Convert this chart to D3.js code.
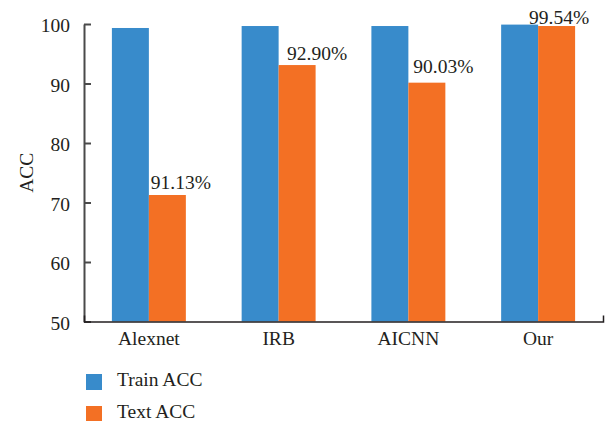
<!DOCTYPE html>
<html>
<head>
<meta charset="utf-8">
<script src="https://cdn.jsdelivr.net/npm/d3@7"></script>
<style>
  body { margin: 0; background: #fff; }
  text { font-family: "Liberation Serif", "DejaVu Serif", serif; fill: #231f20; }
</style>
</head>
<body>
<svg id="chart" width="610" height="421"></svg>
<script>
// data
const models = ['Alexnet', 'IRB', 'AICNN', 'Our'];
const trainAcc = [99.33, 99.66, 99.66, 99.9];
const testAcc = [71.26, 93.1, 90.14, 99.66];
const testLabels = ['91.13%', '92.90%', '90.03%', '99.54%'];
const yTicks = [50, 60, 70, 80, 90, 100];
const seriesNames = ['Train ACC', 'Text ACC'];

const colors = ['#388bcb', '#f37024'];
// label placement tweaks (the source labels are not uniformly placed)
const labelDx = [13.5, 20, 16.5, 2.5];
const labelDy = [-6, -5, -10, -2.5];

const margin = {left: 84, right: 7, top: 24, bottom: 99.5};
const width = 610, height = 421;
const fontSize = '19.5px';

const svg = d3.select('#chart');
const g = svg.append('g');

const xScale = d3.scaleBand()
    .domain(models)
    .range([margin.left, width - margin.right])
    .paddingInner(0.43)
    .paddingOuter(0.215);
const xSub = d3.scaleBand()
    .domain([0, 1])
    .range([0, xScale.bandwidth()]);
const yScale = d3.scaleLinear()
    .domain([50, 100])
    .range([height - margin.bottom, margin.top]);

const rows = models.map((m, i) => ({model: m, vals: [trainAcc[i], testAcc[i]], label: testLabels[i], i: i}));

// bars
const groups = g.selectAll('.group')
    .data(rows)
    .enter()
    .append('g')
    .attr('class', 'group')
    .attr('transform', d => `translate(${xScale(d.model)},0)`);

groups.selectAll('rect')
    .data(d => d.vals.map((v, k) => ({v: v, k: k})))
    .enter()
    .append('rect')
    .attr('x', d => xSub(d.k))
    .attr('width', xSub.bandwidth())
    .attr('y', d => yScale(d.v))
    .attr('height', d => yScale(50) - yScale(d.v))
    .attr('fill', d => colors[d.k]);

// value labels above the orange bars
groups.append('text')
    .attr('x', d => xSub(1) + xSub.bandwidth() / 2 + labelDx[d.i])
    .attr('y', d => yScale(d.vals[1]) + labelDy[d.i])
    .attr('text-anchor', 'middle')
    .style('font-size', fontSize)
    .text(d => d.label);

// y axis
const yAxis = d3.axisLeft(yScale)
    .tickValues(yTicks)
    .tickSizeInner(-7)
    .tickSizeOuter(0)
    .tickPadding(14);
const yg = g.append('g')
    .attr('transform', `translate(${margin.left},0)`)
    .call(yAxis);
yg.selectAll('.domain').attr('stroke', '#4a4a4a').attr('stroke-width', 2);
yg.selectAll('.tick line').attr('stroke', '#4a4a4a').attr('stroke-width', 2);
yg.selectAll('.tick text')
    .style('font-size', fontSize)
    .style('font-family', '"Liberation Serif", serif')
    .attr('fill', '#231f20')
    .attr('dy', '0.4em');

// x axis
const xAxis = d3.axisBottom(xScale)
    .tickSize(0)
    .tickSizeOuter(-6)
    .tickPadding(10);
const xg = g.append('g')
    .attr('transform', `translate(0,${height - margin.bottom})`)
    .call(xAxis);
xg.selectAll('.domain').attr('stroke', '#231f20').attr('stroke-width', 1.5);
xg.selectAll('.tick text')
    .style('font-size', fontSize)
    .style('font-family', '"Liberation Serif", serif')
    .attr('fill', '#231f20')
    .attr('dy', '0.71em');

// axis title
g.append('text')
    .attr('transform', `translate(33,${(yScale(50) + yScale(100)) / 2}) rotate(-90)`)
    .attr('text-anchor', 'middle')
    .style('font-size', fontSize)
    .text('ACC');

// legend
const legend = g.selectAll('.legend')
    .data(seriesNames)
    .enter()
    .append('g')
    .attr('class', 'legend')
    .attr('transform', (d, i) => `translate(86,${374 + i * 32})`);
legend.append('rect')
    .attr('width', 16)
    .attr('height', 16)
    .attr('fill', (d, i) => colors[i]);
legend.append('text')
    .attr('x', 31)
    .attr('y', 12)
    .style('font-size', fontSize)
    .text(d => d);
</script>
</body>
</html>
